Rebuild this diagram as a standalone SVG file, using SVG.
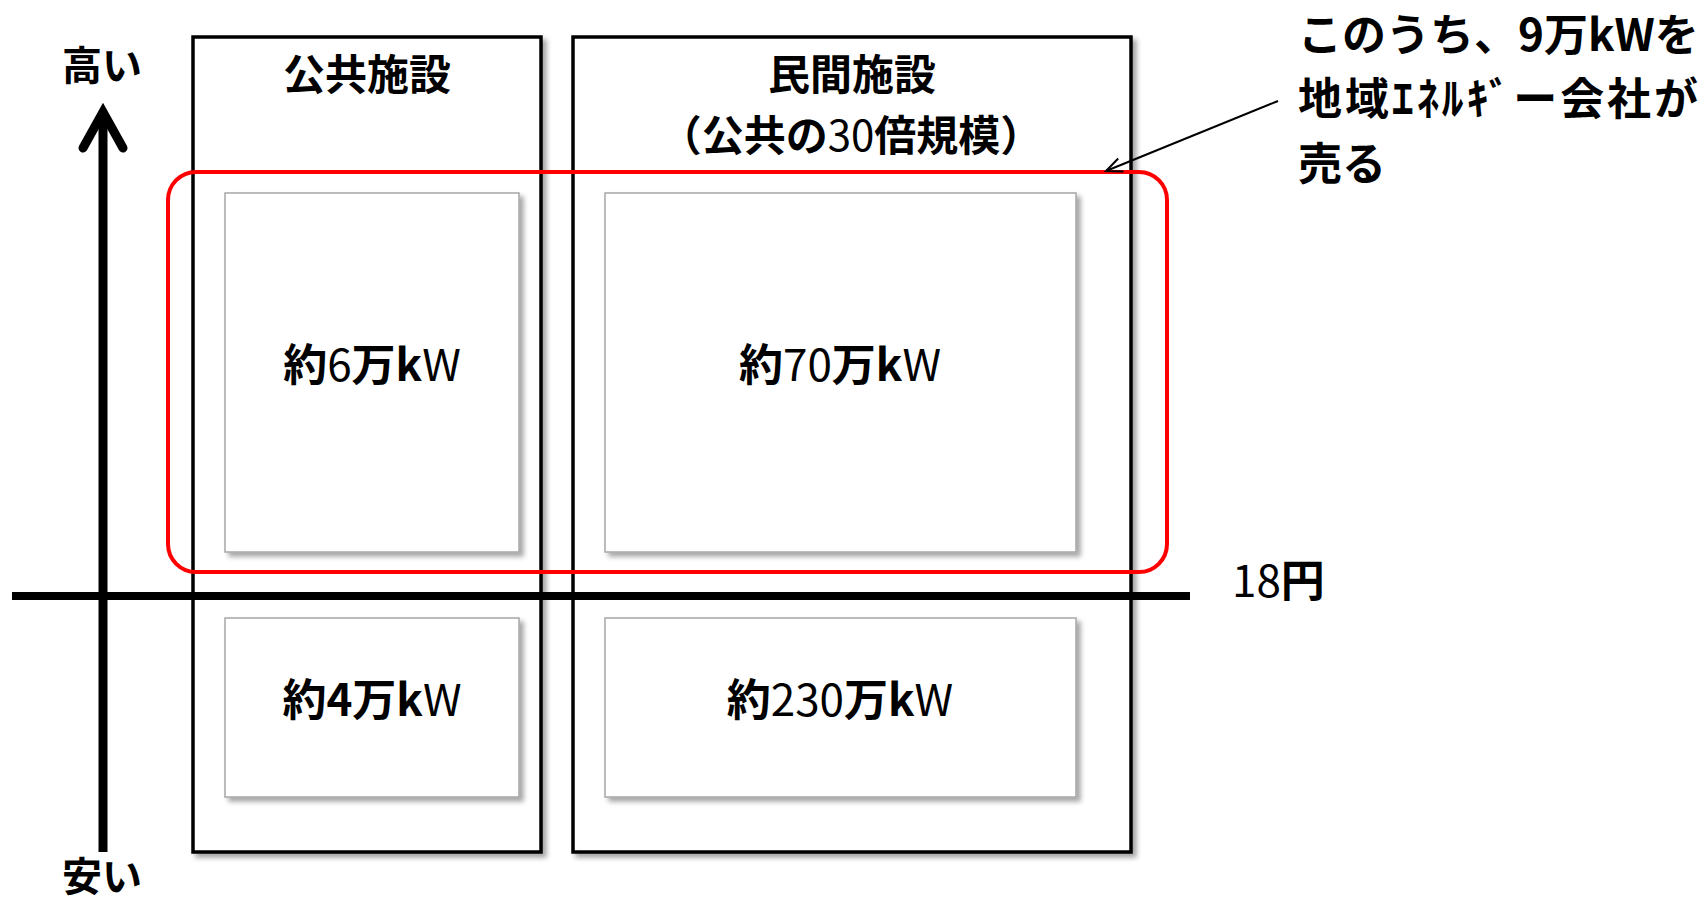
<svg xmlns="http://www.w3.org/2000/svg" width="1707" height="902" viewBox="0 0 1707 902">
<defs>
<filter id="sh" x="-5%" y="-5%" width="115%" height="115%">
<feDropShadow dx="4" dy="4" stdDeviation="2.5" flood-color="#000" flood-opacity="0.35"/>
</filter>
<marker id="open" viewBox="0 0 20 20" refX="18" refY="10" markerWidth="20" markerHeight="20" markerUnits="userSpaceOnUse" orient="auto">
<path d="M2,3 L18,10 L2,17" fill="none" stroke="#000" stroke-width="2"/>
</marker>
</defs>
<style>
text{font-family:"Noto Sans CJK JP","Liberation Sans",sans-serif;fill:#000}
.b{font-weight:bold}
.n{font-weight:normal}
.h{font-size:42px;font-weight:bold;text-anchor:middle}
.v{font-size:44px;text-anchor:middle}
.col{fill:#fff;stroke:#000;stroke-width:3.5;filter:url(#sh)}
.box{fill:#fff;stroke:#a6a6a6;stroke-width:1.5;filter:url(#sh)}
</style>
<rect width="1707" height="902" fill="#fff"/>
<g id="col-public">
<rect class="col" x="193" y="37" width="348" height="815"/>
<text class="h" x="367" y="90">公共施設</text>
</g>
<g id="col-private">
<rect class="col" x="573" y="37" width="558" height="815"/>
<text class="h" x="852" y="90">民間施設</text>
<text class="h" x="851" y="151">（公共の<tspan class="n">30</tspan>倍規模）</text>
</g>
<g id="box-public-high">
<rect class="box" x="225" y="193" width="294" height="359"/>
<text class="v" x="372" y="381"><tspan class="b">約</tspan><tspan class="n">6</tspan><tspan class="b">万k</tspan><tspan class="n">W</tspan></text>
</g>
<g id="box-private-high">
<rect class="box" x="605" y="193" width="471" height="359"/>
<text class="v" x="840" y="381"><tspan class="b">約</tspan><tspan class="n">70</tspan><tspan class="b">万k</tspan><tspan class="n">W</tspan></text>
</g>
<g id="box-public-low">
<rect class="box" x="225" y="618" width="294" height="179"/>
<text class="v" x="372" y="716"><tspan class="b">約4万k</tspan><tspan class="n">W</tspan></text>
</g>
<g id="box-private-low">
<rect class="box" x="605" y="618" width="471" height="179"/>
<text class="v" x="840" y="716"><tspan class="b">約</tspan><tspan class="n">230</tspan><tspan class="b">万k</tspan><tspan class="n">W</tspan></text>
</g>
<g id="highlight">
<rect x="168" y="172" width="999" height="400" rx="28" ry="28" fill="none" stroke="#ff0000" stroke-width="4"/>
</g>
<g id="axes">
<line x1="103" y1="852" x2="103" y2="114" stroke="#000" stroke-width="9"/>
<polyline points="83,148 103,112 123,148" fill="none" stroke="#000" stroke-width="9" stroke-linecap="round" stroke-linejoin="miter"/>
<line x1="12" y1="596" x2="1190" y2="596" stroke="#000" stroke-width="8"/>
<text class="h" x="102" y="80" style="font-size:40px">高い</text>
<text class="h" x="102" y="891" style="font-size:40px">安い</text>
<text x="1232" y="597" style="font-size:44px"><tspan class="n">18</tspan><tspan class="b">円</tspan></text>
</g>
<g id="connectors">
<line x1="1278" y1="101" x2="1106" y2="171" stroke="#000" stroke-width="2" marker-end="url(#open)"/>
</g>
<g id="callout">
<text class="b" x="1298" y="51" style="font-size:44px">このうち、9万kWを</text>
<text class="b" x="1298" y="115" style="font-size:44px" textLength="400" lengthAdjust="spacing">地域ｴﾈﾙｷﾞー会社が</text>
<text class="b" x="1298" y="180" style="font-size:44px">売る</text>
</g>
</svg>
